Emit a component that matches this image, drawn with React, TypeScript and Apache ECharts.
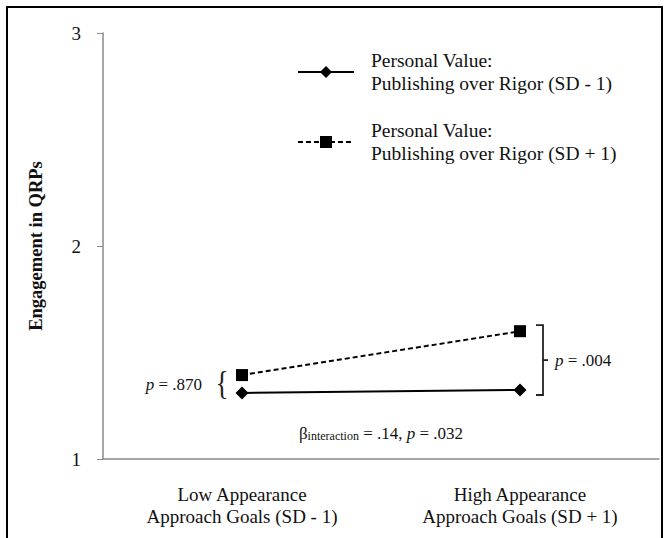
import React, { useEffect, useRef } from "react";
import * as echarts from "echarts";

const categories = [
  "Low Appearance\nApproach Goals (SD - 1)",
  "High Appearance\nApproach Goals (SD + 1)",
];
const seriesNames = [
  "Personal Value:\nPublishing over Rigor (SD - 1)",
  "Personal Value:\nPublishing over Rigor (SD + 1)",
];
const lowValueSeries = [1.31, 1.324];
const highValueSeries = [1.394, 1.6];
const yMin = 1;
const yMax = 3;
const yInterval = 1;
const pLowLabel = "{i|p} = .870";
const pHighLabel = "{i|p} = .004";
const interactionLabel = "{n|β}{s|interaction}{n| = .14, }{i|p}{n| = .032}";

const FONT = "'Liberation Serif', 'Times New Roman', serif";

export default function App() {
  const ref = useRef<HTMLDivElement>(null);
  useEffect(() => {
    document.body.style.margin = "0";
    const chart = echarts.init(ref.current!, null, { renderer: "svg" });
    const option: any = {
      animation: false,
      backgroundColor: "#fff",
      grid: { left: 103, right: 9, top: 33, bottom: 79, containLabel: false },
      legend: {
        orient: "vertical",
        left: 292,
        top: 44,
        itemGap: 24,
        itemWidth: 56,
        itemHeight: 15,
        selectedMode: false,
        textStyle: {
          fontFamily: FONT,
          fontSize: 19.5,
          color: "#111",
          lineHeight: 23,
          padding: [0, 0, 0, 12],
        },
        data: seriesNames,
      },
      xAxis: {
        type: "category",
        data: categories,
        boundaryGap: true,
        axisLine: { lineStyle: { color: "#8a8a8a", width: 1.5 } },
        axisTick: { alignWithLabel: true, length: 5, lineStyle: { color: "#8a8a8a" } },
        axisLabel: {
          fontFamily: FONT,
          fontSize: 19,
          color: "#111",
          lineHeight: 22,
          margin: 24,
        },
      },
      yAxis: {
        type: "value",
        min: yMin,
        max: yMax,
        interval: yInterval,
        name: "Engagement in QRPs",
        nameLocation: "middle",
        nameGap: 58,
        nameTextStyle: {
          fontFamily: FONT,
          fontSize: 18.5,
          fontWeight: "bold",
          color: "#111",
        },
        splitLine: { show: false },
        axisLine: { show: true, lineStyle: { color: "#8a8a8a", width: 1.5 } },
        axisTick: { show: true, length: 6, lineStyle: { color: "#8a8a8a" } },
        axisLabel: { fontFamily: FONT, fontSize: 19, color: "#111", margin: 22 },
      },
      series: [
        {
          name: seriesNames[0],
          type: "line",
          data: lowValueSeries,
          symbol: "diamond",
          symbolSize: 13,
          lineStyle: { color: "#000", width: 2 },
          itemStyle: { color: "#000" },
        },
        {
          name: seriesNames[1],
          type: "line",
          data: highValueSeries,
          symbol: "rect",
          symbolSize: 12,
          lineStyle: { color: "#000", width: 2, type: [5, 3] },
          itemStyle: { color: "#000" },
        },
      ],
    };
    chart.setOption(option);

    const px = (i: number, v: number) =>
      chart.convertToPixel({ gridIndex: 0 }, [i, v]) as number[];
    const a0 = px(0, lowValueSeries[0]);
    const b0 = px(0, highValueSeries[0]);
    const a1 = px(1, lowValueSeries[1]);
    const b1 = px(1, highValueSeries[1]);
    const midX = (a0[0] + a1[0]) / 2;
    const betaY = px(0, 1.12)[1];
    const bx = a1[0] + 23;
    const top = b1[1] - 6;
    const bot = a1[1] + 5;
    const rich = {
      i: { fontFamily: FONT, fontSize: 17, fontStyle: "italic", fill: "#111" },
      n: { fontFamily: FONT, fontSize: 17, fill: "#111" },
      s: { fontFamily: FONT, fontSize: 12, fill: "#111", verticalAlign: "bottom", padding: [6, 0, 0, 0] },
    };

    chart.setOption({
      graphic: [
        {
          type: "rect",
          shape: { x: 7, y: 7, width: 655, height: 600 },
          style: { fill: "none", stroke: "#000", lineWidth: 2 },
          silent: true,
        },
        {
          type: "text",
          x: a0[0] - 20,
          y: (a0[1] + b0[1]) / 2 - 1,
          style: {
            text: "{",
            fontFamily: FONT,
            fontSize: 34,
            fill: "#222",
            align: "center",
            verticalAlign: "middle",
          },
          scaleX: 0.8,
        },
        {
          type: "text",
          x: a0[0] - 40,
          y: (a0[1] + b0[1]) / 2,
          style: {
            text: pLowLabel,
            rich,
            fontFamily: FONT,
            fontSize: 17,
            fill: "#111",
            align: "right",
            verticalAlign: "middle",
          },
        },
        {
          type: "polyline",
          shape: {
            points: [
              [bx - 7, top],
              [bx, top],
              [bx, bot],
              [bx - 7, bot],
            ],
          },
          style: { fill: "none", stroke: "#222", lineWidth: 1.8 },
        },
        {
          type: "line",
          shape: { x1: bx, y1: (top + bot) / 2, x2: bx + 5, y2: (top + bot) / 2 },
          style: { stroke: "#222", lineWidth: 1.8 },
        },
        {
          type: "text",
          x: bx + 12,
          y: (top + bot) / 2,
          style: {
            text: pHighLabel,
            rich,
            fontFamily: FONT,
            fontSize: 17,
            fill: "#111",
            align: "left",
            verticalAlign: "middle",
          },
        },
        {
          type: "text",
          x: midX,
          y: betaY,
          style: {
            text: interactionLabel,
            rich,
            fontFamily: FONT,
            fontSize: 17,
            fill: "#111",
            align: "center",
            verticalAlign: "middle",
          },
        },
      ],
    });
    return () => chart.dispose();
  }, []);
  return <div ref={ref} style={{ width: 668, height: 538 }} />;
}
